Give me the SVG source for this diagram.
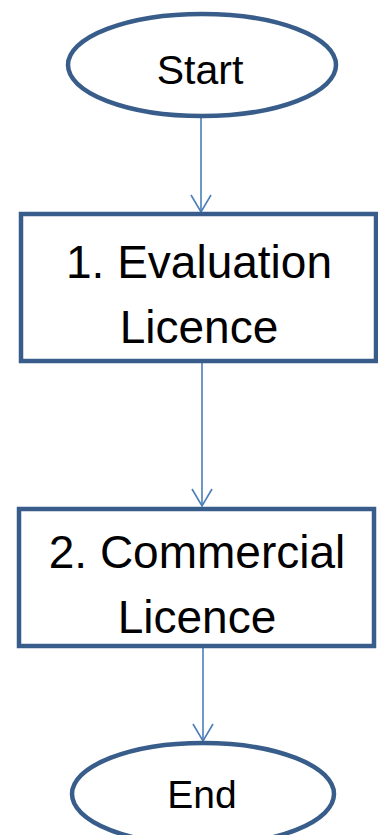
<svg xmlns="http://www.w3.org/2000/svg" width="378" height="835" viewBox="0 0 378 835">
<defs>
<style>
.shape{fill:#ffffff;stroke:#385D8A;stroke-width:4.5}
.conn{stroke:#4A7EBB;stroke-width:1.6;fill:none}
.lbl{font-family:"Liberation Sans",Arial,sans-serif;fill:#000;text-anchor:middle}
</style>
</defs>
<rect width="378" height="835" fill="#ffffff"/>
<g id="connectors">
<line class="conn" x1="201" y1="117" x2="201" y2="212"/>
<path class="conn" d="M191,195 L201,212 L211,195"/>
<line class="conn" x1="202" y1="362" x2="202" y2="506"/>
<path class="conn" d="M192,489 L202,506 L212,489"/>
<line class="conn" x1="203" y1="647" x2="203" y2="741"/>
<path class="conn" d="M193,724 L203,741 L213,724"/>
</g>
<g id="start">
<ellipse class="shape" cx="202" cy="65" rx="134" ry="51"/>
<text class="lbl" x="200" y="84" font-size="41">Start</text>
</g>
<g id="evaluation">
<rect class="shape" x="21" y="214" width="355" height="147"/>
<text class="lbl" x="199" y="278" font-size="46">1. Evaluation</text>
<text class="lbl" x="199" y="343" font-size="46">Licence</text>
</g>
<g id="commercial">
<rect class="shape" x="19" y="509" width="355" height="137"/>
<text class="lbl" x="197" y="568" font-size="46">2. Commercial</text>
<text class="lbl" x="197" y="633" font-size="46">Licence</text>
</g>
<g id="end">
<ellipse class="shape" cx="203" cy="794" rx="131" ry="51"/>
<text class="lbl" x="202" y="808" font-size="39">End</text>
</g>
</svg>
